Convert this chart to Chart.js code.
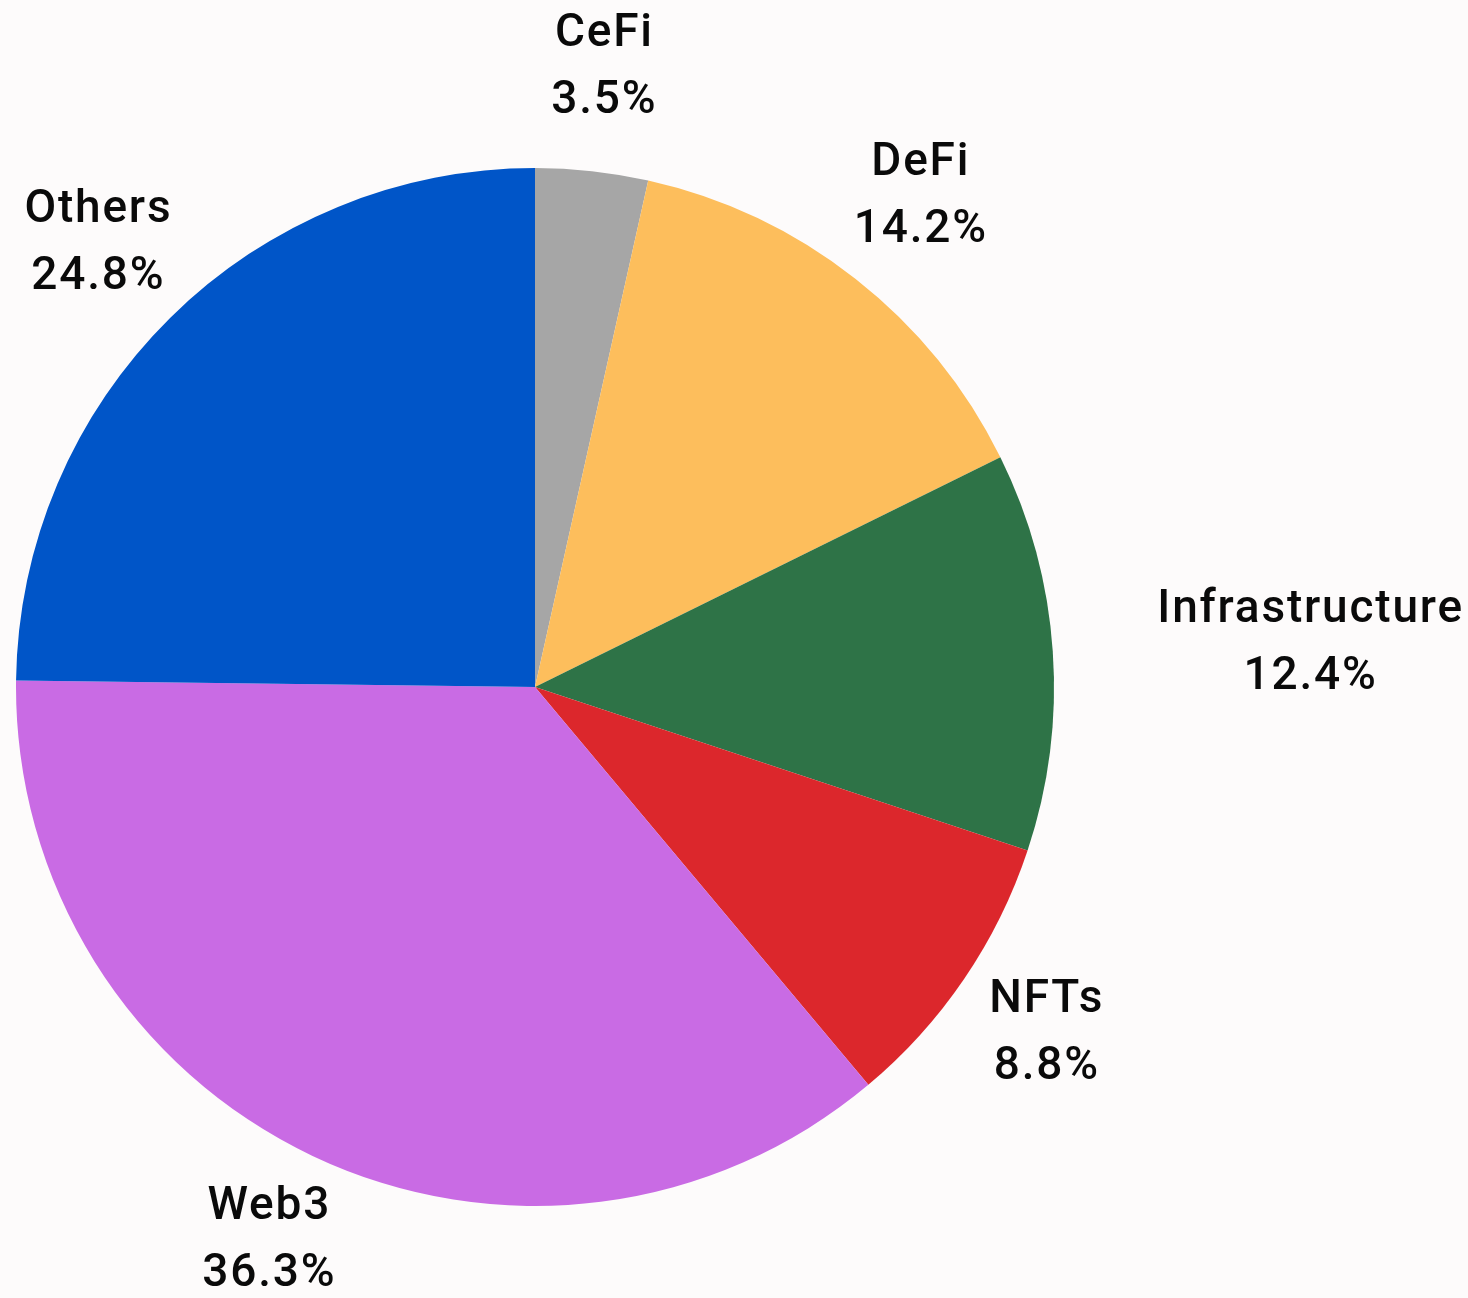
<!DOCTYPE html>
<html>
<head>
<meta charset="utf-8">
<script src="https://cdn.jsdelivr.net/npm/chart.js@4"></script>
<style>
  html, body { margin: 0; padding: 0; background: #fdfbfb; }
  #wrap { width: 1468px; height: 1298px; position: relative; }
</style>
</head>
<body>
<div id="wrap"><canvas id="c" width="1468" height="1298"></canvas></div>
<script>
const categories = ["CeFi", "DeFi", "Infrastructure", "NFTs", "Web3", "Others"];
const shares = [3.5, 14.2, 12.4, 8.8, 36.3, 24.8];
const sliceColors = ["#a6a6a6", "#fdbe5c", "#2e7347", "#dc272c", "#c96be4", "#0055c8"];

// label placement styling (angle override in degrees clockwise from top, distance as fraction of radius)
const labelPlacement = [
  { dist: 1.2, align: "center" },
  { dist: 1.2, align: "center" },
  { dist: 1.2, align: "left" },
  { dist: 1.19, align: "center" },
  { dist: 1.185, align: "center", angle: 205.7 },
  { dist: 1.2, align: "center" }
];

const labelPlugin = {
  id: "pieLabels",
  afterDraw(chart) {
    const ctx = chart.ctx;
    const meta = chart.getDatasetMeta(0);
    ctx.save();
    ctx.fillStyle = "#0a0a0a";
    ctx.font = "500 46px Roboto";
    ctx.letterSpacing = "1.8px";
    ctx.textBaseline = "middle";
    const lineGap = 67;
    meta.data.forEach((arc, i) => {
      const p = labelPlacement[i];
      const mid = p.angle !== undefined ? (p.angle - 90) * Math.PI / 180 : (arc.startAngle + arc.endAngle) / 2;
      const r = arc.outerRadius * p.dist;
      const x = arc.x + r * Math.cos(mid);
      const y = arc.y + r * Math.sin(mid);
      const lines = [categories[i], shares[i].toFixed(1) + "%"];
      const widths = lines.map(t => ctx.measureText(t).width);
      const blockW = Math.max(...widths);
      let cxText = x;
      if (p.align === "left") cxText = x + blockW / 2;
      if (p.align === "right") cxText = x - blockW / 2;
      ctx.textAlign = "center";
      lines.forEach((t, k) => {
        ctx.fillText(t, cxText + 1, y + (k - (lines.length - 1) / 2) * lineGap);
      });
    });
    ctx.restore();
  }
};

new Chart(document.getElementById("c"), {
  type: "pie",
  data: {
    labels: categories,
    datasets: [{
      data: shares,
      backgroundColor: sliceColors,
      borderWidth: 0
    }]
  },
  options: {
    responsive: false,
    animation: false,
    layout: { padding: { left: 16, top: 168, right: 414, bottom: 92 } },
    plugins: {
      legend: { display: false },
      tooltip: { enabled: false }
    }
  },
  plugins: [labelPlugin]
});
</script>
</body>
</html>
